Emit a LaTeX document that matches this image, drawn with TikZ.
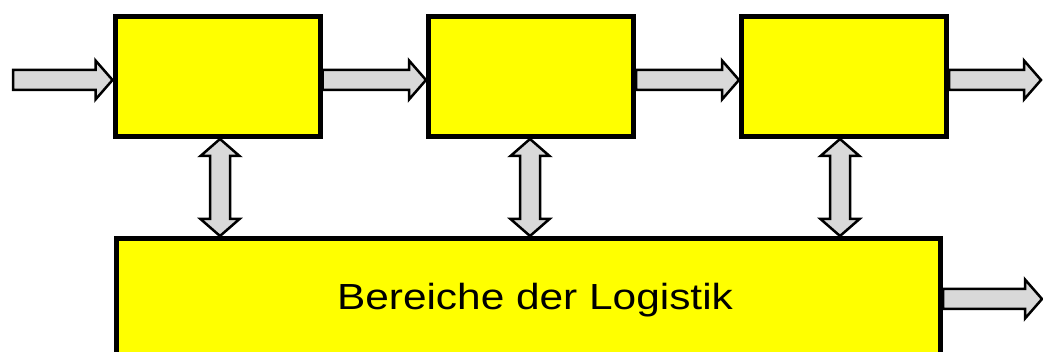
\documentclass[tikz,border=0pt]{standalone}
\usepackage{fontspec}
\setmainfont{Liberation Sans}
\usetikzlibrary{calc,backgrounds}
\definecolor{boxyellow}{HTML}{FFFF00}
\definecolor{arrowgray}{HTML}{D9D9D9}
\def\arS{10pt}
\def\arH{19.5pt}
\def\arL{17pt}
\newcommand\harrow[2]{%
  \draw[fatarrow] let \p1=(#1), \p2=(#2) in
    (\x1,\y1+\arS) -- (\x2-\arL,\y1+\arS) -- (\x2-\arL,\y1+\arH) -- (\x2,\y1)
    -- (\x2-\arL,\y1-\arH) -- (\x2-\arL,\y1-\arS) -- (\x1,\y1-\arS) -- cycle;}
\newcommand\varrow[3]{%
  \draw[fatarrow] let \p1=(#1), \p2=(#2), \n1={\x1+#3pt} in
    (\n1,\y1) -- (\n1+\arH,\y1-\arL) -- (\n1+\arS,\y1-\arL) -- (\n1+\arS,\y2+\arL)
    -- (\n1+\arH,\y2+\arL) -- (\n1,\y2) -- (\n1-\arH,\y2+\arL) -- (\n1-\arS,\y2+\arL)
    -- (\n1-\arS,\y1-\arL) -- (\n1-\arH,\y1-\arL) -- cycle;}
\begin{document}
\begin{tikzpicture}[x=1pt,y=-1pt,
  stagebox/.style={draw=black,fill=boxyellow,line width=5pt,inner sep=0pt,
    minimum width=205pt,minimum height=120pt},
  fatarrow/.style={draw=black,fill=arrowgray,line width=2.5pt,line join=miter,miter limit=10}]
\useasboundingbox (0,0) rectangle (1043,352);
\node[stagebox] (b1) at (217.5,76.5) {};
\node[stagebox] (b2) at (531,76.5) {};
\node[stagebox] (b3) at (844,76.5) {};
\node[stagebox,minimum width=824pt,minimum height=116.5pt] (log) at (528.5,296.75) {};
\node[font=\fontsize{36.3}{40}\selectfont,anchor=base,inner sep=0pt] (lbl) at (535,309)
  {\scalebox{1.168}[1]{Bereiche der Logistik}};
\coordinate (in) at (13,80);
\coordinate (out1) at (1041,80);
\coordinate (out2) at (1042,299);
\begin{pgfonlayer}{background}
\harrow{in}{$(b1.west)+(0,3.5)$}
\harrow{$(b1.east)+(0,3.5)$}{$(b2.west)+(0,3.5)$}
\harrow{$(b2.east)+(0,3.5)$}{$(b3.west)+(0,3.5)$}
\harrow{$(b3.east)+(0,3.5)$}{out1}
\harrow{$(log.east|-out2)$}{out2}
\varrow{b1.south}{log.north -| b1.south}{2.5}
\varrow{b2.south}{log.north -| b2.south}{-1}
\varrow{b3.south}{log.north -| b3.south}{-4}
\end{pgfonlayer}
\end{tikzpicture}
\end{document}
